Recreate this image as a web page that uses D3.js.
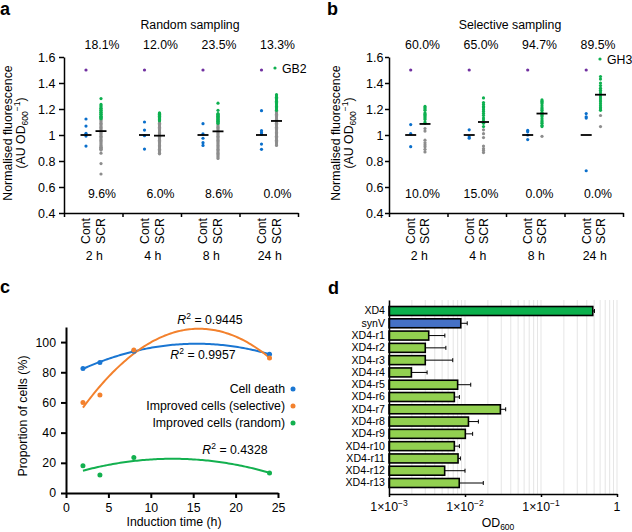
<!DOCTYPE html>
<html><head><meta charset="utf-8">
<script src="https://cdn.jsdelivr.net/npm/d3@7"></script>
<style>body{margin:0;background:#fff}svg{display:block}</style>
</head><body><svg id="c" width="632" height="532"></svg>
<script>
// ---------- DATA ----------
const times = ["2 h", "4 h", "8 h", "24 h"];
const conds = ["Cont", "SCR"];
const yTicksAB = [0.4, 0.6, 0.8, 1, 1.2, 1.4, 1.6];

// panel a : random sampling
const randUpPct = ["18.1%", "12.0%", "23.5%", "13.3%"];
const randDownPct = ["9.6%", "6.0%", "8.6%", "0.0%"];
const randPositive = [1.5, 1.5, 1.5, 1.5];
const randCont = [[1.123, 1.069, 1.013, 0.992, 0.915], [1.10, 1.038, 0.995, 0.892], [1.087, 1.008, 0.975, 0.941, 0.92], [1.187, 1.033, 1.018, 1.005, 0.93, 0.89]];
const randContMean = [1, 1, 1, 1];
const randScrMean = [1.03, 0.995, 1.028, 1.108];
const randScrImproved = [
  [1.28, 1.235, 1.225, 1.215, 1.205, 1.20, 1.19, 1.185, 1.175, 1.17, 1.16, 1.155, 1.145, 1.14, 1.135, 1.13, 1.125],
  [1.17, 1.165, 1.16, 1.155, 1.15, 1.145, 1.14, 1.135, 1.13, 1.125, 1.12, 1.115, 1.11],
  [1.245, 1.19, 1.165, 1.16, 1.155, 1.15, 1.145, 1.14, 1.135, 1.13, 1.125, 1.12, 1.115, 1.11, 1.105, 1.10, 1.095, 1.09],
  [1.31, 1.30, 1.29, 1.28, 1.27, 1.26, 1.25, 1.24, 1.23, 1.22, 1.21, 1.20, 1.19]
];
const randScrOther = [
  [1.12, 1.11, 1.10, 1.09, 1.08, 1.07, 1.06, 1.05, 1.04, 1.03, 1.02, 1.01, 1.00, 0.99, 0.98, 0.97, 0.96, 0.95, 0.94, 0.93, 0.92, 0.91, 0.905, 0.90, 0.895, 0.89, 0.885, 0.86, 0.78, 0.70],
  [1.10, 1.09, 1.08, 1.07, 1.06, 1.05, 1.04, 1.03, 1.02, 1.01, 1.00, 0.99, 0.98, 0.97, 0.96, 0.95, 0.94, 0.93, 0.92, 0.91, 0.90, 0.89, 0.88, 0.87, 0.86, 0.855],
  [1.08, 1.07, 1.06, 1.05, 1.04, 1.03, 1.02, 1.01, 1.00, 0.99, 0.98, 0.97, 0.96, 0.95, 0.94, 0.93, 0.92, 0.91, 0.90, 0.89, 0.88, 0.87, 0.86, 0.85, 0.84, 0.83, 0.82],
  [1.18, 1.17, 1.16, 1.15, 1.14, 1.13, 1.12, 1.11, 1.10, 1.09, 1.08, 1.07, 1.06, 1.05, 1.04, 1.03, 1.02, 1.01, 1.00, 0.99, 0.98, 0.97, 0.96, 0.95, 0.94, 0.93, 0.92]
];

// panel b : selective sampling
const selUpPct = ["60.0%", "65.0%", "94.7%", "89.5%"];
const selDownPct = ["10.0%", "15.0%", "0.0%", "0.0%"];
const selPositive = [1.5, 1.5, 1.5, 1.5];
const selCont = [[1.08, 1.01, 0.91], [1.04, 0.985, 0.975], [1.035, 1.025, 1.0, 0.965], [1.165, 1.14, 1.13, 0.725]];
const selContMean = [1, 1, 1, 1];
const selScrMean = [1.085, 1.10, 1.165, 1.31];
const selScrImproved = [
  [1.22, 1.21, 1.20, 1.19, 1.17, 1.16, 1.15, 1.14, 1.13, 1.12, 1.10, 1.09],
  [1.285, 1.25, 1.235, 1.22, 1.21, 1.195, 1.18, 1.165, 1.15, 1.13, 1.115, 1.09, 1.065],
  [1.27, 1.26, 1.25, 1.24, 1.225, 1.21, 1.20, 1.19, 1.175, 1.16, 1.15, 1.14, 1.125, 1.11, 1.10, 1.09, 1.075, 1.065],
  [1.45, 1.43, 1.40, 1.38, 1.36, 1.345, 1.33, 1.315, 1.30, 1.285, 1.27, 1.255, 1.24, 1.225, 1.21, 1.20, 1.19]
];
const selScrOther = [[1.05, 1.03, 0.96, 0.94, 0.925, 0.91, 0.89, 0.87], [1.04, 1.01, 0.98, 0.915, 0.895, 0.88, 0.865], [0.99], [1.15, 1.065]];

// panel c
const inductionTime = [2, 4, 8, 24];
const cellDeath = [82.5, 86.5, 94, 92];
const improvedSelective = [60, 65, 94.7, 89.5];
const improvedRandom = [18.1, 12.0, 23.5, 13.3];
const seriesNamesC = ["Cell death", "Improved cells (selective)", "Improved cells (random)"];
const r2Labels = ["0.9957", "0.9445", "0.4328"];
const xTicksC = [0, 5, 10, 15, 20, 25];
const yTicksC = [0, 20, 40, 60, 80, 100];

// panel d
const strains = ["XD4", "synV", "XD4-r1", "XD4-r2", "XD4-r3", "XD4-r4", "XD4-r5", "XD4-r6", "XD4-r7", "XD4-r8", "XD4-r9", "XD4-r10", "XD4-r11", "XD4-r12", "XD4-r13"];
const strainKind = ["parent", "control", "r", "r", "r", "r", "r", "r", "r", "r", "r", "r", "r", "r", "r"];
const od600 = [0.48, 0.0088, 0.00333, 0.0030, 0.0030, 0.00197, 0.0080, 0.00724, 0.0292, 0.0111, 0.0101, 0.00724, 0.0081, 0.0054, 0.0084];
const od600Sd = [0.025, 0.0019, 0.0021, 0.0026, 0.0039, 0.0012, 0.0039, 0.0012, 0.0051, 0.0039, 0.0025, 0.0012, 0.0006, 0.0046, 0.009];
const xTicksD = [1e-3, 1e-2, 1e-1, 1];
const xTickLabelsD = [["1×10", "−3"], ["1×10", "−2"], ["1×10", "−1"], ["1", ""]];

// ---------- DRAW ----------
const FF = "'Liberation Sans', Arial, Helvetica, sans-serif";
const FS = 12.3;
const C = { blue: "#0a6fcb", green: "#0db04f", grey: "#8d8d8d", purple: "#7030a0",
            lblue: "#1a76d2", orange: "#f3812d", lgreen: "#13b04f",
            barParent: "#0bb04c", barControl: "#4571c6", barR: "#92d050" };
const svg = d3.select("#c").attr("font-family", FF);
svg.append("rect").attr("width", 632).attr("height", 532).attr("fill", "#fff");

function txt(g, x, y, s, o = {}) {
  return g.append("text").attr("x", x).attr("y", y).attr("font-size", o.fs || FS)
    .attr("text-anchor", o.anchor || "start").attr("fill", "#000")
    .attr("font-weight", o.bold ? "bold" : null).text(s);
}

function styleAxis(a, sw) {
  a.attr("font-family", FF).attr("font-size", FS);
  a.selectAll(".domain, .tick line").attr("stroke", "#000").attr("stroke-width", sw);
  a.selectAll(".tick text").attr("fill", "#000");
}

function scatterPanel(o) {
  const g = svg.append("g");
  const W = 234;
  const x0 = d3.scaleBand().domain(times).range([o.left, o.left + W]);
  const x1 = d3.scalePoint().domain(conds).range([o.contOff, o.scrOff]);
  const y = d3.scaleLinear().domain([0.4, 1.6]).range([213, 57]);
  const xi = d3.scaleLinear().domain([0, times.length]).range([o.left, o.left + W]);

  const ya = g.append("g").attr("transform", `translate(${o.left},0)`)
    .call(d3.axisLeft(y).tickValues(yTicksAB).tickFormat(d => d === 1 ? "1" : d3.format(".1f")(d))
      .tickSize(o.tickSize).tickPadding(o.tickPad).tickSizeOuter(0));
  styleAxis(ya, 1.5);
  ya.attr("font-size", 12.5);
  const xa = g.append("g").attr("transform", "translate(0,213)")
    .call(d3.axisBottom(xi).tickValues(d3.range(times.length + 1)).tickFormat("").tickSize(4).tickSizeOuter(0));
  styleAxis(xa, 1.5);

  times.forEach((t, i) => {
    const xc = x0(t) + x1("Cont"), xs = x0(t) + x1("SCR");
    const dot = (cx, v, col) => g.append("circle").attr("cx", cx).attr("cy", y(v)).attr("r", 1.6).attr("fill", col);
    o.other[i].forEach(v => dot(xs, v, C.grey));
    o.improved[i].forEach(v => dot(xs, v, C.green));
    o.cont[i].forEach(v => dot(xc, v, C.blue));
    dot(xc, o.positive[i], C.purple);
    [[xc, o.contMean[i]], [xs, o.scrMean[i]]].forEach(([cx, v]) =>
      g.append("line").attr("x1", cx - 5.5).attr("x2", cx + 5.5).attr("y1", y(v)).attr("y2", y(v))
        .attr("stroke", "#000").attr("stroke-width", 1.8));
    conds.forEach(c => {
      g.append("text").attr("transform", `translate(${x0(t) + x1(c)},218) rotate(-90)`)
        .attr("text-anchor", "end").attr("dy", "0.35em").attr("font-size", FS).text(c);
    });
    txt(g, x0(t) + x0.bandwidth() / 2 + 1, 260, t, { anchor: "middle" });
    txt(g, x0(t) + o.pctOff, 48.5, o.up[i], { anchor: "middle" });
    txt(g, x0(t) + o.pctOff, 198, o.down[i], { anchor: "middle" });
  });
  txt(g, o.titleX, 29, o.title, { anchor: "middle" });
  // y label
  g.append("text").attr("transform", `translate(${o.yl1},133) rotate(-90)`).attr("text-anchor", "middle")
    .attr("dy", "0.35em").attr("font-size", FS).text("Normalised fluorescence");
  const t2 = g.append("text").attr("transform", `translate(${o.yl2},133) rotate(-90)`).attr("text-anchor", "middle")
    .attr("dy", "0.35em").attr("font-size", FS);
  t2.append("tspan").text("(AU OD");
  t2.append("tspan").attr("font-size", 8.5).attr("dy", 3).text("600");
  t2.append("tspan").attr("font-size", 8.5).attr("dy", -8).text("−1");
  t2.append("tspan").attr("dy", 5).text(")");
  // legend
  g.append("circle").attr("cx", o.legX).attr("cy", o.legY).attr("r", 1.6).attr("fill", C.green);
  txt(g, o.legX + 7, o.legY + 4.5, o.legText);
  txt(g, o.letterX, 15, o.letter, { bold: true, fs: 18 });
}

scatterPanel({ left: 64, contOff: 22, scrOff: 37, pctOff: 38, titleX: 190, title: "Random sampling",
  tickSize: 5, tickPad: 3.5, yl1: 7.5, yl2: 20.5, legX: 275, legY: 68, legText: "GB2",
  up: randUpPct, down: randDownPct, positive: randPositive, cont: randCont, contMean: randContMean,
  scrMean: randScrMean, improved: randScrImproved, other: randScrOther, letter: "a", letterX: 0 });

scatterPanel({ left: 389, contOff: 21.7, scrOff: 36, pctOff: 33.5, titleX: 510, title: "Selective sampling",
  tickSize: 4, tickPad: 1.5, yl1: 335.5, yl2: 348.5, legX: 600, legY: 59, legText: "GH3",
  up: selUpPct, down: selDownPct, positive: selPositive, cont: selCont, contMean: selContMean,
  scrMean: selScrMean, improved: selScrImproved, other: selScrOther, letter: "b", letterX: 327 });

// ---------- panel c ----------
(function () {
  const g = svg.append("g");
  const x = d3.scaleLinear().domain([0, 25]).range([66, 278]);
  const y = d3.scaleLinear().domain([0, 110]).range([493, 327]);
  const ya = g.append("g").attr("transform", "translate(66,0)")
    .call(d3.axisLeft(y).tickValues(yTicksC).tickSize(5).tickPadding(5).tickSizeOuter(0));
  styleAxis(ya, 2);
  const xa = g.append("g").attr("transform", "translate(0,493)")
    .call(d3.axisBottom(x).tickValues(xTicksC).tickSize(5).tickPadding(5).tickSizeOuter(0));
  styleAxis(xa, 2);

  function quadFit(xs, ys) {
    const n = xs.length;
    const S = k => d3.sum(xs, v => Math.pow(v, k));
    const T = k => d3.sum(xs, (v, i) => Math.pow(v, k) * ys[i]);
    const A = [[n, S(1), S(2), T(0)], [S(1), S(2), S(3), T(1)], [S(2), S(3), S(4), T(2)]];
    for (let i = 0; i < 3; i++) {
      for (let j = i + 1; j < 3; j++) {
        const f = A[j][i] / A[i][i];
        for (let k = i; k < 4; k++) A[j][k] -= f * A[i][k];
      }
    }
    const c = [0, 0, 0];
    for (let i = 2; i >= 0; i--) {
      let s = A[i][3];
      for (let k = i + 1; k < 3; k++) s -= A[i][k] * c[k];
      c[i] = s / A[i][i];
    }
    return t => c[0] + c[1] * t + c[2] * t * t;
  }
  const series = [[cellDeath, C.lblue], [improvedSelective, C.orange], [improvedRandom, C.lgreen]];
  const tMin = d3.min(inductionTime), tMax = d3.max(inductionTime);
  series.forEach(([vals, col]) => {
    const f = quadFit(inductionTime, vals);
    const pts = d3.range(0, 101).map(k => tMin + (tMax - tMin) * k / 100);
    g.append("path").attr("d", d3.line().x(t => x(t)).y(t => y(f(t))).curve(d3.curveLinear)(pts))
      .attr("fill", "none").attr("stroke", col).attr("stroke-width", 2);
  });
  series.forEach(([vals, col]) => {
    inductionTime.forEach((t, i) => g.append("circle").attr("cx", x(t)).attr("cy", y(vals[i])).attr("r", 2.5).attr("fill", col));
  });
  // legend
  seriesNamesC.forEach((nm, i) => {
    const by = 393 + i * 17;
    txt(g, 285, by, nm, { anchor: "end" });
    g.append("circle").attr("cx", 293).attr("cy", by - 4).attr("r", 2.5).attr("fill", series[i][1]);
  });
  // R2 labels
  const r2Pos = [[203, 359], [210, 323.5], [235, 454]];
  r2Labels.forEach((lab, i) => {
    const t = g.append("text").attr("x", r2Pos[i][0]).attr("y", r2Pos[i][1]).attr("text-anchor", "middle").attr("font-size", FS);
    t.append("tspan").attr("font-style", "italic").text("R");
    t.append("tspan").attr("font-size", 8.5).attr("dy", -5).text("2");
    t.append("tspan").attr("dy", 5).text(" = " + lab);
  });
  txt(g, 174, 526, "Induction time (h)", { anchor: "middle" });
  g.append("text").attr("transform", "translate(23,416) rotate(-90)").attr("text-anchor", "middle")
    .attr("dy", "0.35em").attr("font-size", FS).text("Proportion of cells (%)");
  txt(g, 0, 293, "c", { bold: true, fs: 18 });
})();

// ---------- panel d ----------
(function () {
  const g = svg.append("g");
  const x = d3.scaleLog().domain([1e-3, 1]).range([389, 617]);
  const y = d3.scaleBand().domain(strains).range([300, 494]).paddingInner(0.27).paddingOuter(0.53);
  // grid
  g.append("g").selectAll("line").data(x.ticks()).join("line")
    .attr("x1", d => x(d)).attr("x2", d => x(d)).attr("y1", 300).attr("y2", 494)
    .attr("stroke", "#dedede").attr("stroke-width", 0.8);
  const color = k => k === "parent" ? C.barParent : k === "control" ? C.barControl : C.barR;
  strains.forEach((s, i) => {
    const cy = y(s) + y.bandwidth() / 2;
    const xe = x(od600[i] + od600Sd[i]);
    g.append("line").attr("x1", x(od600[i])).attr("x2", xe).attr("y1", cy).attr("y2", cy).attr("stroke", "#000").attr("stroke-width", 1);
    g.append("line").attr("x1", xe).attr("x2", xe).attr("y1", cy - 2).attr("y2", cy + 2).attr("stroke", "#000").attr("stroke-width", 1);
    g.append("rect").attr("x", x(1e-3)).attr("y", y(s)).attr("width", x(od600[i]) - x(1e-3)).attr("height", y.bandwidth())
      .attr("fill", color(strainKind[i])).attr("stroke", "#000").attr("stroke-width", 1.6);
  });
  const ya = g.append("g").attr("transform", "translate(389,0)")
    .call(d3.axisLeft(y).tickSize(0).tickPadding(4).tickSizeOuter(0));
  styleAxis(ya, 1.5);
  ya.attr("font-size", 10.6);
  const xa = g.append("g").attr("transform", "translate(0,494)")
    .call(d3.axisBottom(x).tickValues(xTicksD).tickFormat("").tickSize(3).tickSizeOuter(0));
  styleAxis(xa, 1.5);
  xTicksD.forEach((v, i) => {
    const t = g.append("text").attr("x", x(v)).attr("y", 511).attr("text-anchor", "middle").attr("font-size", FS);
    t.append("tspan").text(xTickLabelsD[i][0]);
    if (xTickLabelsD[i][1]) t.append("tspan").attr("font-size", 8.5).attr("dy", -5).text(xTickLabelsD[i][1]);
  });
  const ol = g.append("text").attr("x", 498).attr("y", 527).attr("text-anchor", "middle").attr("font-size", FS);
  ol.append("tspan").text("OD");
  ol.append("tspan").attr("font-size", 8.5).attr("dy", 3).text("600");
  txt(g, 328, 294, "d", { bold: true, fs: 18 });
})();
</script></body></html>
